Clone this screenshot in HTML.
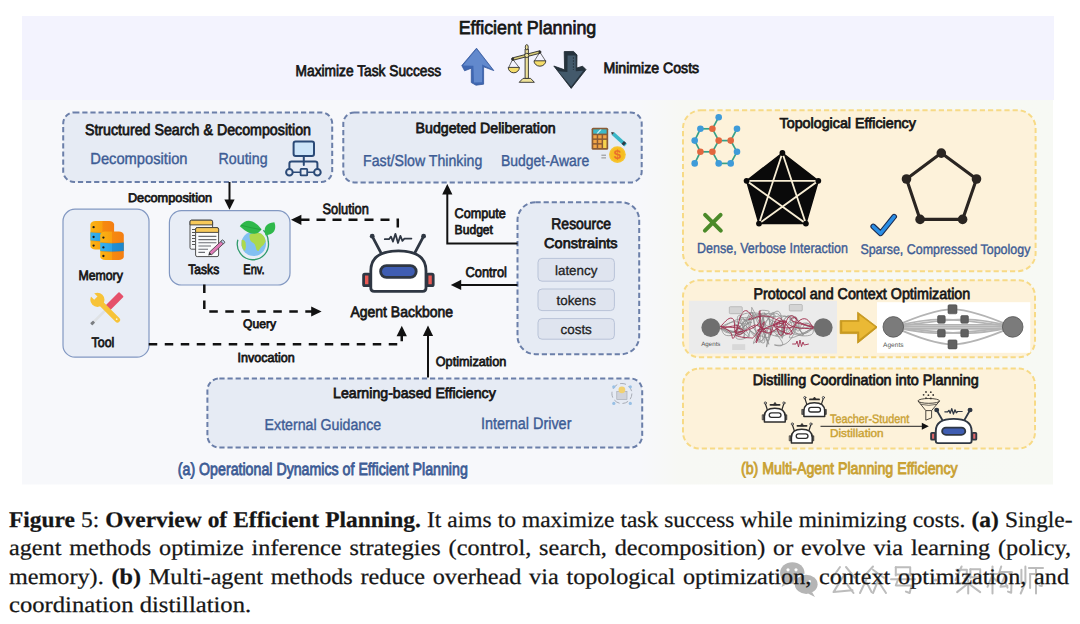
<!DOCTYPE html>
<html><head><meta charset="utf-8"><style>
html,body{margin:0;padding:0;background:#fff;width:1080px;height:624px;overflow:hidden;position:relative;text-rendering:geometricPrecision}
.t{position:absolute;white-space:nowrap;line-height:1;font-family:"Liberation Sans",sans-serif;transform-origin:0 0}
svg{position:absolute;left:0;top:0}
</style></head><body>
<svg width="1080" height="624" viewBox="0 0 1080 624">
<defs><linearGradient id="bgg" x1="0" x2="1" y1="0" y2="0"><stop offset="0" stop-color="#f7f8fb"/><stop offset="0.60" stop-color="#f7f8fb"/><stop offset="0.64" stop-color="#f7f8f4"/><stop offset="1" stop-color="#f7f9f4"/></linearGradient></defs>
<rect x="22" y="16" width="1032" height="84" fill="#f3f3fe"/>
<rect x="22" y="100" width="1031" height="384.5" fill="url(#bgg)"/>
<rect x="63.2" y="112.4" width="269" height="69.6" rx="11" fill="#e6ebf4" stroke="#6b7fa9" stroke-width="2" stroke-dasharray="5.2 2.9"/>
<rect x="343.3" y="112.4" width="298.4" height="70" rx="11" fill="#e6ebf4" stroke="#6b7fa9" stroke-width="2" stroke-dasharray="5.2 2.9"/>
<rect x="517.5" y="202.2" width="121.7" height="152" rx="18" fill="#e6ebf4" stroke="#6b7fa9" stroke-width="2" stroke-dasharray="5.2 2.9"/>
<rect x="207.4" y="378.4" width="434.8" height="69.2" rx="12" fill="#e6ebf4" stroke="#6b7fa9" stroke-width="2" stroke-dasharray="5.2 2.9"/>
<rect x="63" y="209.2" width="86" height="148" rx="12" fill="#e8edf6" stroke="#8298c2" stroke-width="1.2"/>
<rect x="169.4" y="210.6" width="120.6" height="74.4" rx="12" fill="#e8edf6" stroke="#8298c2" stroke-width="1.2"/>
<rect x="538" y="258.4" width="76.4" height="22.8" rx="4" fill="#dfe4ef" stroke="#b9c3d8" stroke-width="1"/>
<rect x="538" y="289" width="76.4" height="21.6" rx="4" fill="#dfe4ef" stroke="#b9c3d8" stroke-width="1"/>
<rect x="538" y="318.6" width="76.4" height="20.6" rx="4" fill="#dfe4ef" stroke="#b9c3d8" stroke-width="1"/>
<rect x="683" y="110.2" width="352.6" height="161" rx="18" fill="#fdf2da" stroke="#f7da86" stroke-width="2" stroke-dasharray="5.2 3"/>
<rect x="683" y="280.2" width="352" height="77" rx="16" fill="#fdf2da" stroke="#f7da86" stroke-width="2" stroke-dasharray="5.2 3"/>
<rect x="683" y="368.6" width="352" height="79.8" rx="16" fill="#fdf2da" stroke="#f7da86" stroke-width="2" stroke-dasharray="5.2 3"/>
<line x1="229.5" y1="182" x2="229.5" y2="201" stroke="#111" stroke-width="2"/>
<polygon points="229.5,209.8 224.4,199.4 234.6,199.4" fill="#111"/>
<polyline points="397.8,227.5 397.8,219.8 301,219.8" fill="none" stroke="#111" stroke-width="2.5" stroke-dasharray="9 7"/>
<polygon points="291.0,219.8 301.4,214.7 301.4,224.9" fill="#111"/>
<polyline points="204.3,284.5 204.3,311.5 312,311.5" fill="none" stroke="#111" stroke-width="2.5" stroke-dasharray="8.5 7.5"/>
<polygon points="321.6,311.5 311.2,306.4 311.2,316.6" fill="#111"/>
<polyline points="148.75,344.3 401.75,344.3 401.75,336" fill="none" stroke="#111" stroke-width="2.5" stroke-dasharray="8.5 7.5"/>
<polygon points="401.8,325.8 396.6,336.2 406.9,336.2" fill="#111"/>
<line x1="428" y1="377.4" x2="428" y2="334" stroke="#111" stroke-width="2"/>
<polygon points="428.0,325.6 422.9,336.0 433.1,336.0" fill="#111"/>
<polyline points="517.5,243.4 447.3,243.4 447.3,192" fill="none" stroke="#111" stroke-width="2"/>
<polygon points="447.3,184.0 442.2,194.4 452.4,194.4" fill="#111"/>
<line x1="517.5" y1="284.9" x2="459" y2="284.9" stroke="#111" stroke-width="2"/>
<polygon points="450.8,284.9 461.2,279.8 461.2,290.0" fill="#111"/>
<text x="576.2" y="274.8" font-family="Liberation Sans" font-size="13.4" fill="#1e1e1e" stroke="#1e1e1e" stroke-width="0.3" text-anchor="middle">latency</text>
<text x="576.2" y="305.0" font-family="Liberation Sans" font-size="13.4" fill="#1e1e1e" stroke="#1e1e1e" stroke-width="0.3" text-anchor="middle">tokens</text>
<text x="576.2" y="333.9" font-family="Liberation Sans" font-size="13.4" fill="#1e1e1e" stroke="#1e1e1e" stroke-width="0.3" text-anchor="middle">costs</text>
<!-- up arrow -->
<polygon points="476.5,48.2 493.8,70.6 483.6,66.8 483.6,84.2 476,85.2 471.3,82.6 471.3,68.2 464.6,70.8 461.8,65.6" fill="#3f67b2" stroke="#35589c" stroke-width="0.8" stroke-linejoin="round"/>
<polygon points="476.5,49.2 492.2,69.2 482.2,64.6 482.0,82.2 474.0,82.4 473.4,65.8 463.0,65.4" fill="#6289cd"/>
<!-- scales -->
<g stroke="#2d2d2d" stroke-width="0.9" stroke-linejoin="round">
<path d="M512.7,59.2 L508.6,67.6 M512.7,59.2 L519.2,67.6 M539.9,52.2 L534.3,61 M539.9,52.2 L545.6,61" fill="none" stroke-width="0.7"/>
<path d="M508.2,67.4 H519.4 A5.6,5.4 0 0 1 508.2,67.4 Z" fill="#f4dc6a"/>
<path d="M534,60.8 H545.8 A5.9,5.4 0 0 1 534,60.8 Z" fill="#f4dc6a"/>
<rect x="525.1" y="49" width="3.3" height="29.5" fill="#efe39a"/>
<path d="M512.5,60.4 L540.2,53.2 L539.7,50.8 L512,58 Z" fill="#d8cc78"/>
<ellipse cx="526.75" cy="47.2" rx="1.5" ry="2.6" fill="#efe39a"/>
<circle cx="526.75" cy="55.4" r="2.1" fill="#efe39a"/>
<circle cx="512.7" cy="59.1" r="1.1" fill="#2d2d2d"/>
<circle cx="539.9" cy="52" r="1.1" fill="#2d2d2d"/>
<path d="M523,78.4 H530.6 L534.4,82.3 H519.2 Z" fill="#efe39a"/>
</g>
<!-- down arrow -->
<polygon points="564.2,51.6 573.6,51.4 577,55 576.8,68 582.6,66.2 586,69.6 571.2,88.4 553.8,66 564.6,69.8" fill="#25323d" stroke="#1b242c" stroke-width="0.8" stroke-linejoin="round"/>
<polygon points="567.6,55.6 575.6,55.6 575.8,71.2 583.2,70.8 571.2,86.6 558.2,71.2 567.4,72" fill="#43596b"/>
<line x1="573.4" y1="57" x2="573.4" y2="70" stroke="#1b242c" stroke-width="0.6" stroke-dasharray="2 1"/>
<!-- network icon -->
<g stroke="#2b4a77" stroke-width="2" fill="none" stroke-linecap="round" stroke-linejoin="round">
<rect x="293.6" y="141.6" width="20.4" height="14.4" rx="2" fill="#cde5f9"/>
<path d="M303.8,156 V165"/>
<path d="M289.4,168.6 V163.6 Q289.4,161.4 291.6,161.4 H315.2 Q317.4,161.4 317.4,163.6 V168.6"/>
<circle cx="289.4" cy="172.2" r="3.3" fill="#e6ebf4"/>
<circle cx="317.4" cy="172.2" r="3.3" fill="#e6ebf4"/>
<path d="M292.7,172.2 H300.6 M307.2,172.2 H314.1" stroke-width="1.6"/>
<rect x="300.6" y="168.8" width="6.6" height="6.6" rx="0.6" fill="#e6ebf4" stroke-width="1.8"/>
</g>
<!-- calculator -->
<rect x="591.6" y="127.8" width="16.6" height="22" rx="1.5" fill="#8a5b35"/>
<rect x="593.2" y="129.4" width="13.4" height="4.2" fill="#3cb9c9"/>
<path d="M596.5,133.4 L600,129.6 L601.6,129.6 L598,133.4 Z" fill="#d8f4f8"/>
<g fill="#f2a547">
<rect x="593.3" y="135.2" width="3.4" height="3.2"/><rect x="598.2" y="135.2" width="3.4" height="3.2"/><rect x="603.1" y="135.2" width="3.4" height="3.2"/>
<rect x="593.3" y="139.9" width="3.4" height="3.2"/><rect x="598.2" y="139.9" width="3.4" height="3.2"/>
<rect x="593.3" y="144.6" width="3.4" height="3.4"/><rect x="598.2" y="144.6" width="3.4" height="3.4"/>
</g>
<rect x="603.1" y="139.9" width="3.4" height="8.1" fill="#f6d24e"/>
<!-- pencil -->
<g transform="translate(611.2,132) rotate(42)">
<rect x="2.5" y="-1.8" width="17" height="3.6" fill="#3ab7c8"/>
<rect x="15.5" y="-1.8" width="3" height="3.6" fill="#2b3c46"/>
<polygon points="0,0 2.6,-1.8 2.6,1.8" fill="#3a3a3a"/>
</g>
<!-- coin -->
<circle cx="617.4" cy="154.6" r="8.4" fill="#f7c531"/>
<circle cx="617.4" cy="154.6" r="7" fill="#f6bd22"/>
<text x="617.4" y="159.3" font-family="Liberation Sans" font-size="13" font-weight="bold" fill="#ea6f2b" text-anchor="middle">$</text>
<path d="M601.4,155.2 H606 M601.4,157.9 H606" stroke="#8c8c8c" stroke-width="1"/>
<defs>
<linearGradient id="og" x1="0" x2="1"><stop offset="0" stop-color="#fbb414"/><stop offset="0.5" stop-color="#f9a00e"/><stop offset="0.52" stop-color="#f68a0f"/><stop offset="1" stop-color="#f47e12"/></linearGradient>
<linearGradient id="bg2" x1="0" x2="1"><stop offset="0" stop-color="#37b3f0"/><stop offset="0.5" stop-color="#2aa2e6"/><stop offset="0.52" stop-color="#1f8fd6"/><stop offset="1" stop-color="#1d87cc"/></linearGradient>
</defs>
<!-- database back -->
<rect x="90.4" y="221.0" width="23.7" height="28.6" rx="5" ry="3.6" fill="url(#og)"/>
<path d="M90.4,232.2 Q102.2,233.6 114.10000000000001,232.2 V240.6 Q102.2,242.0 90.4,240.6 Z" fill="url(#bg2)"/>
<path d="M90.9,232.0 Q102.2,233.4 113.60000000000001,232.0 M90.9,240.8 Q102.2,242.2 113.60000000000001,240.8" stroke="#d07a10" stroke-width="0.5" fill="none" opacity="0.6"/>
<circle cx="93.6" cy="227.2" r="1.15" fill="#1a1a1a"/>
<circle cx="93.6" cy="237.0" r="1.15" fill="#1a1a1a"/>
<circle cx="93.6" cy="245.6" r="1.15" fill="#1a1a1a"/>
<!-- database front -->
<rect x="100.2" y="231.4" width="23.6" height="28.6" rx="5" ry="3.6" fill="url(#og)"/>
<path d="M100.2,242.6 Q112.0,244.0 123.80000000000001,242.6 V251.0 Q112.0,252.4 100.2,251.0 Z" fill="url(#bg2)"/>
<path d="M100.7,242.4 Q112.0,243.8 123.30000000000001,242.4 M100.7,251.2 Q112.0,252.6 123.30000000000001,251.2" stroke="#d07a10" stroke-width="0.5" fill="none" opacity="0.6"/>
<circle cx="103.4" cy="237.6" r="1.15" fill="#1a1a1a"/>
<circle cx="103.4" cy="247.4" r="1.15" fill="#1a1a1a"/>
<circle cx="103.4" cy="256.0" r="1.15" fill="#1a1a1a"/>
<!-- tool: screwdriver -->
<g transform="translate(91.6,324) rotate(-44.9)">
<rect x="0" y="-1.3" width="21" height="2.6" fill="#dfe2e5"/>
<rect x="-0.5" y="-1.5" width="4" height="3" rx="0.6" fill="#7a7d82"/>
<rect x="20" y="-3.3" width="22" height="6.6" rx="0.8" fill="#e5506a"/>
</g>
<!-- tool: wrench -->
<g transform="translate(97.4,299.8) rotate(45)">
<rect x="2" y="-2.7" width="29" height="5.4" rx="2.7" fill="#f7c338"/>
<circle cx="0" cy="0" r="7.1" fill="#f7c338"/>
<path d="M-7.6,-2.3 L-2.2,-2.3 L-2.2,2.3 L-7.6,2.3 Z" fill="#e8edf6"/>
<circle cx="27.3" cy="0" r="0.9" fill="#fff6cc"/>
</g>
<!-- tasks back sheet -->
<g stroke="#3c3c3c" stroke-width="0.9">
<rect x="190" y="220.2" width="22.6" height="29" rx="1.6" fill="#f5f6f8"/>
<path d="M190,224.9 V221.8 Q190,220.2 191.6,220.2 H211 Q212.6,220.2 212.6,221.8 V224.9 Z" fill="#f7c95a"/>
<rect x="195.6" y="227.6" width="23" height="29" rx="1.6" fill="#fafbfc"/>
<path d="M195.6,232.4 V229.2 Q195.6,227.6 197.2,227.6 H217 Q218.6,227.6 218.6,229.2 V232.4 Z" fill="#f7c95a"/>
</g>
<g stroke="#6b6e74" stroke-width="1.1">
<path d="M192,229.5 H195 M192,232.5 H195 M192,235.5 H195 M192,238.5 H195 M192,241.5 H195 M192,244.5 H195" stroke="#555"/>
<path d="M198.4,236.4 H216.4 M198.4,239.6 H216.4 M198.4,242.8 H216.4 M198.4,246 H211 M198.4,249.2 H208 M198.4,252.4 H205"/>
</g>
<!-- pencil pink -->
<g transform="translate(208.2,255.6) rotate(-43)">
<rect x="3" y="-1.7" width="17" height="3.4" fill="#e07ab8" stroke="#333" stroke-width="0.7"/>
<polygon points="0,0 3,-1.7 3,1.7" fill="#333"/>
<rect x="19" y="-1.7" width="2.4" height="3.4" fill="#bcd3ee" stroke="#333" stroke-width="0.7"/>
</g>
<!-- env globe -->
<circle cx="253.7" cy="243.8" r="12.3" fill="#82c0f2"/>
<path d="M249.6,234.5 Q256,231.5 261,233.5 Q265.6,237 265.6,241.5 Q264,245 261.6,246.5 Q259.5,249 258.5,251 Q256.4,251.5 256,248 Q255.4,244 252.5,242.6 Q249,240.5 249.6,234.5 Z" fill="#acd94c"/>
<path d="M241.6,240 Q244.5,239 245.6,242.5 Q246.6,247.5 245,251 Q242.4,249.5 241.6,245.5 Z" fill="#acd94c"/>
<path d="M237.9,239.8 A15.6,15.6 0 1 0 268.2,241.2 Q268,234.5 263.4,230.2" fill="none" stroke="#2f9b6b" stroke-width="1.3"/>
<path d="M239.8,226.2 Q249.5,214.2 261.6,229.2 Q254.5,239.8 239.8,226.2 Z" fill="#2fb84b"/>
<path d="M240.8,225.2 Q251,228 261,229.6" stroke="#1e9a38" stroke-width="0.7" fill="none"/>
<path d="M265.6,235.4 Q261.6,223.6 274.4,222.2 Q278.2,233.6 265.6,235.4 Z" fill="#2fb84b"/>
<!-- robot main -->
<g stroke="#2f3743" stroke-width="2.8" stroke-linecap="round" stroke-linejoin="round">
<line x1="380.6" y1="252.2" x2="372.4" y2="236.6"/>
<line x1="415.2" y1="252.2" x2="423.4" y2="236.6"/>
<rect x="363.6" y="274.2" width="6.2" height="11.4" rx="1.2" fill="#ea5a55"/>
<rect x="427" y="274.2" width="6.2" height="11.4" rx="1.2" fill="#ea5a55"/>
<path d="M370.8,288 V271 C370.8,256 383,250.8 398.4,250.8 C413.8,250.8 426,256 426,271 V288 Q426,291.4 422.6,291.4 H374.2 Q370.8,291.4 370.8,288 Z" fill="#ffffff"/>
<rect x="380.6" y="265.6" width="35.6" height="11.8" rx="5.9" fill="#3f5db2"/>
<path d="M384.8,239.2 H389 L391,236.6 L393,241.6 L395.4,233.8 L398,243 L400.4,235.8 L402.4,240.8 L404.4,238.6 H411.4" fill="none" stroke-width="1.8"/>
</g>
<circle cx="372.2" cy="236.2" r="2.4" fill="#2f3743"/>
<circle cx="423.6" cy="236.2" r="2.4" fill="#2f3743"/>
<g stroke="#36a089" stroke-width="1.7"><line x1="718.7" y1="117.2" x2="712.4" y2="128.8"/><line x1="700.4" y1="128.8" x2="712.4" y2="128.8"/><line x1="700.4" y1="128.8" x2="694.7" y2="140.6"/><line x1="694.7" y1="140.6" x2="700.4" y2="151.8"/><line x1="700.4" y1="151.8" x2="712.4" y2="151.8"/><line x1="712.4" y1="151.8" x2="718.7" y2="140.6"/><line x1="718.7" y1="140.6" x2="712.4" y2="128.8"/><line x1="718.7" y1="140.6" x2="730.7" y2="140.6"/><line x1="730.7" y1="140.6" x2="737" y2="128.8"/><line x1="730.7" y1="140.6" x2="737" y2="151.8"/><line x1="737" y1="151.8" x2="730.7" y2="163.4"/><line x1="730.7" y1="163.4" x2="718.7" y2="163.4"/><line x1="718.7" y1="163.4" x2="712.4" y2="151.8"/><line x1="700.4" y1="151.8" x2="694.7" y2="163.4"/></g>
<g fill="#3e9bd9"><circle cx="718.7" cy="117.2" r="3.3"/><circle cx="700.4" cy="128.8" r="3.3"/><circle cx="737" cy="128.8" r="3.3"/><circle cx="694.7" cy="140.6" r="3.3"/><circle cx="737" cy="151.8" r="3.3"/><circle cx="694.7" cy="163.4" r="3.3"/><circle cx="718.7" cy="163.4" r="3.3"/><circle cx="730.7" cy="163.4" r="3.3"/></g>
<g fill="#e2673f"><circle cx="712.4" cy="128.8" r="3.3"/><circle cx="718.7" cy="140.6" r="3.3"/><circle cx="730.7" cy="140.6" r="3.3"/><circle cx="700.4" cy="151.8" r="3.3"/><circle cx="712.4" cy="151.8" r="3.3"/></g>
<polygon points="782.4,153 818.3,180.8 805.9,223.6 759,223.6 746.6,180.8" fill="#0a0a0a" stroke="#0a0a0a" stroke-width="1.5" stroke-linejoin="round"/>
<polyline points="782.4,153 805.9,223.6 746.6,180.8 818.3,180.8 759,223.6 782.4,153" fill="none" stroke="#f8eed4" stroke-width="1.8"/>
<g fill="#0a0a0a"><circle cx="782.4" cy="153" r="2.9"/><circle cx="818.3" cy="180.8" r="2.9"/><circle cx="805.9" cy="223.6" r="2.9"/><circle cx="759" cy="223.6" r="2.9"/><circle cx="746.6" cy="180.8" r="2.9"/></g>
<polygon points="941.3,153.1 976.5,179 962.6,219.4 920.1,219.4 906.5,179" fill="none" stroke="#2a2521" stroke-width="3.1" stroke-linejoin="round"/>
<g fill="#2a2521"><circle cx="941.3" cy="153.1" r="4.8"/><circle cx="976.5" cy="179" r="4.8"/><circle cx="962.6" cy="219.4" r="4.8"/><circle cx="920.1" cy="219.4" r="4.8"/><circle cx="906.5" cy="179" r="4.8"/></g>
<path d="M705.1,214.8 L720.8,230.6 M720.6,214.8 L704.9,230.6" stroke="#4b8a29" stroke-width="4.0" stroke-linecap="round"/>
<path d="M873.2,226.4 L880.6,233.4 L894.2,216.6" fill="none" stroke="#1c2b4d" stroke-width="5.6" stroke-linecap="round" stroke-linejoin="round"/>
<path d="M873.2,226.4 L880.6,233.4 L894.2,216.6" fill="none" stroke="#2b8fe6" stroke-width="3.4" stroke-linecap="round" stroke-linejoin="round"/>
<rect x="689" y="300.8" width="148" height="52.8" fill="#ebebeb"/>
<path d="M720.5,326.5 C723.9,328.0 728.2,330.6 734.1,332.3 C740.0,334.0 741.7,332.2 744.1,333.2 C746.5,334.2 742.0,341.2 743.7,336.3 C745.3,331.5 748.0,320.0 750.7,313.8 C753.3,307.7 749.6,304.0 754.1,311.6 C758.6,319.2 766.8,342.0 768.7,344.2 C770.6,346.4 760.0,327.3 761.7,320.4 C763.4,313.4 773.6,317.5 775.4,316.4 C777.1,315.3 768.2,312.1 768.6,316.1 C769.0,320.0 770.5,331.6 776.9,332.1 C783.4,332.6 788.7,318.8 794.3,318.1 C799.8,317.4 796.9,324.9 799.1,329.2 C801.3,333.5 804.5,335.1 803.0,335.3 C801.5,335.5 790.6,332.4 793.2,330.2 C795.8,328.0 808.4,327.4 813.5,326.5 " fill="none" stroke="#8c8c8c" stroke-width="0.85" opacity="0.9"/>
<path d="M720.5,327.8 C722.6,329.8 721.9,335.9 728.9,335.7 C735.9,335.4 743.6,330.9 748.5,326.8 C753.3,322.7 749.3,320.8 748.3,319.3 C747.3,317.8 741.8,321.1 744.4,320.7 C747.1,320.2 752.6,319.7 758.8,317.4 C765.1,315.2 769.4,313.0 769.4,311.7 C769.4,310.3 757.4,309.3 758.9,312.0 C760.4,314.7 771.5,320.3 775.4,322.5 C779.3,324.8 772.6,320.7 774.4,321.2 C776.3,321.6 781.6,323.2 782.7,324.2 C783.9,325.2 778.3,327.3 779.2,325.3 C780.0,323.3 780.5,314.6 786.1,316.3 C791.7,317.9 797.2,327.5 801.5,332.0 C805.8,336.5 800.3,335.4 803.3,334.2 C806.3,333.1 810.9,329.0 813.5,327.3 " fill="none" stroke="#8c8c8c" stroke-width="0.85" opacity="0.9"/>
<path d="M720.5,326.5 C724.7,325.4 731.4,321.0 737.3,321.9 C743.3,322.8 742.9,327.9 744.3,330.2 C745.6,332.5 740.9,335.4 742.7,331.0 C744.5,326.6 748.1,312.4 751.3,312.6 C754.6,312.8 753.3,324.6 755.6,331.8 C757.9,339.1 756.9,343.9 760.4,341.7 C763.9,339.4 768.7,330.0 769.7,322.9 C770.7,315.9 761.7,310.6 764.5,313.5 C767.4,316.4 776.8,331.6 781.2,334.6 C785.6,337.6 781.2,329.6 782.2,325.5 C783.1,321.5 782.9,320.6 785.0,318.5 C787.1,316.4 787.5,314.2 790.6,317.3 C793.7,320.3 794.2,329.3 797.4,330.8 C800.6,332.2 799.4,324.3 803.4,323.2 C807.4,322.1 811.0,325.6 813.5,326.4 " fill="none" stroke="#8c8c8c" stroke-width="0.85" opacity="0.9"/>
<path d="M720.5,329.0 C723.9,329.6 728.1,333.5 734.1,331.4 C740.2,329.3 744.1,320.9 744.7,320.7 C745.3,320.5 737.1,329.8 736.6,330.6 C736.0,331.4 735.9,321.2 742.4,323.7 C749.0,326.3 760.3,343.7 762.8,340.8 C765.3,337.9 753.2,312.3 752.4,312.1 C751.5,311.9 757.4,338.8 759.4,340.0 C761.5,341.3 758.6,323.7 760.5,317.2 C762.4,310.6 762.2,314.0 767.1,313.8 C772.1,313.6 776.5,311.0 780.5,316.4 C784.5,321.8 779.7,333.1 783.2,335.2 C786.7,337.4 790.1,326.6 794.5,325.1 C798.8,323.7 797.7,329.8 800.7,329.4 C803.7,328.9 803.3,323.8 806.5,323.2 C809.7,322.7 811.8,326.2 813.5,327.2 " fill="none" stroke="#8c8c8c" stroke-width="0.85" opacity="0.9"/>
<path d="M720.5,329.0 C726.0,329.6 738.9,333.0 742.4,331.6 C746.0,330.2 732.8,322.3 734.6,323.5 C736.3,324.7 747.8,338.2 749.3,336.5 C750.7,334.8 736.9,322.3 740.3,316.7 C743.7,311.1 757.2,312.9 762.9,314.1 C768.6,315.2 761.9,314.5 763.1,321.3 C764.4,328.1 765.8,340.8 767.9,341.3 C770.0,341.9 770.7,325.8 771.6,323.5 C772.5,321.2 768.7,331.9 771.4,332.1 C774.2,332.3 779.3,325.2 782.6,324.4 C785.8,323.6 783.7,330.3 784.3,328.8 C785.0,327.3 782.2,321.0 785.2,318.3 C788.2,315.5 792.2,314.3 796.4,317.9 C800.6,321.6 797.7,330.2 802.0,332.8 C806.2,335.5 810.6,329.6 813.5,328.6 " fill="none" stroke="#8c8c8c" stroke-width="0.85" opacity="0.9"/>
<path d="M720.5,328.7 C723.4,329.7 724.8,334.1 732.0,332.6 C739.1,331.2 744.4,325.5 749.0,323.0 C753.6,320.6 751.8,322.9 750.4,322.8 C748.9,322.7 740.9,324.5 743.3,322.6 C745.7,320.7 755.0,315.3 760.0,315.1 C765.0,315.0 763.6,319.6 763.2,322.1 C762.8,324.5 757.2,323.9 758.4,325.0 C759.5,326.0 761.7,321.5 767.7,326.1 C773.8,330.7 780.9,338.5 782.6,343.2 C784.3,347.9 773.4,345.0 774.5,344.9 C775.7,344.7 781.8,346.8 787.2,342.7 C792.7,338.5 795.6,329.5 796.3,328.4 C797.0,327.2 786.6,337.7 790.0,338.0 C793.4,338.4 804.1,332.7 810.0,329.8 C815.9,326.9 812.6,327.3 813.5,326.4 " fill="none" stroke="#8c8c8c" stroke-width="0.85" opacity="0.9"/>
<path d="M720.5,328.2 C726.1,326.0 735.9,317.4 743.0,319.2 C750.1,321.0 750.6,331.1 748.8,335.4 C747.1,339.7 734.3,341.0 736.1,336.5 C737.9,332.0 749.0,320.8 756.1,317.4 C763.2,313.9 763.7,318.8 764.4,322.8 C765.2,326.8 757.9,329.8 759.0,333.3 C760.1,336.8 767.2,338.5 768.8,336.9 C770.4,335.4 765.8,331.4 765.6,327.0 C765.3,322.6 764.2,322.9 767.7,319.3 C771.3,315.6 776.3,307.9 779.8,312.6 C783.4,317.2 781.0,334.6 782.0,337.9 C782.9,341.2 782.6,326.8 783.6,325.7 C784.5,324.5 783.6,334.2 785.7,333.4 C787.9,332.5 785.1,323.3 792.0,322.1 C798.9,320.8 808.1,326.8 813.5,328.3 " fill="none" stroke="#8c8c8c" stroke-width="0.85" opacity="0.9"/>
<path d="M720.5,326.8 C724.5,329.1 731.0,335.7 736.6,335.8 C742.3,335.9 742.0,331.9 743.2,327.2 C744.3,322.5 737.0,314.9 741.2,317.0 C745.4,319.2 757.8,332.5 760.0,335.9 C762.2,339.4 749.0,329.3 750.0,330.9 C751.1,332.6 761.5,345.3 764.2,342.7 C766.8,340.1 760.7,323.4 760.6,320.5 C760.5,317.6 758.0,327.1 763.7,331.0 C769.5,334.9 781.2,338.3 783.4,336.3 C785.7,334.3 774.5,328.0 772.8,323.1 C771.1,318.1 772.3,317.9 776.5,316.5 C780.8,315.1 786.4,316.3 789.9,317.5 C793.3,318.7 788.3,317.3 790.4,321.4 C792.6,325.4 792.7,332.4 798.4,333.8 C804.2,335.1 809.7,328.5 813.5,326.8 " fill="none" stroke="#8c8c8c" stroke-width="0.85" opacity="0.9"/>
<path d="M720.5,326.5 C725.7,328.4 737.0,335.3 741.3,334.2 C745.6,333.1 738.3,326.9 737.7,322.2 C737.1,317.5 737.3,316.5 738.9,315.4 C740.6,314.3 738.5,317.5 744.3,317.8 C750.1,318.2 759.7,310.3 762.1,316.7 C764.5,323.1 751.0,344.5 753.8,343.5 C756.6,342.4 770.2,311.9 773.3,312.5 C776.5,313.2 766.6,341.2 766.5,346.1 C766.3,351.1 768.5,335.7 772.8,332.3 C777.2,329.0 783.0,332.2 783.8,332.8 C784.7,333.4 773.0,336.6 776.1,334.9 C779.2,333.2 792.3,326.6 796.3,326.1 C800.2,325.6 788.5,330.7 791.9,333.0 C795.3,335.3 804.4,336.8 809.8,335.3 C815.2,333.7 812.6,328.8 813.5,326.7 " fill="none" stroke="#8c8c8c" stroke-width="0.85" opacity="0.9"/>
<path d="M720.5,326.2 C722.8,327.5 726.4,328.8 729.8,331.5 C733.3,334.2 731.2,341.7 734.4,336.9 C737.6,332.2 738.3,317.7 742.6,312.5 C747.0,307.3 750.2,314.4 751.9,316.1 C753.5,317.9 746.2,319.5 749.2,319.4 C752.2,319.4 756.7,315.8 763.8,316.0 C770.9,316.1 773.4,318.5 777.4,320.0 C781.5,321.6 781.0,320.8 780.2,322.1 C779.3,323.5 771.1,324.1 773.9,325.3 C776.8,326.6 785.8,329.1 791.4,327.2 C797.0,325.3 796.1,319.4 796.3,317.8 C796.5,316.2 787.7,318.3 792.0,320.7 C796.3,323.2 808.1,325.9 813.5,327.6 " fill="none" stroke="#a0304f" stroke-width="1.0" opacity="0.95"/>
<path d="M720.5,326.3 C723.4,324.3 728.1,316.4 732.3,318.4 C736.5,320.3 732.5,332.1 737.2,334.1 C741.9,336.2 745.9,328.7 751.2,326.7 C756.4,324.6 754.4,324.7 758.2,325.9 C761.9,327.2 766.3,330.6 766.1,331.6 C766.0,332.7 756.5,330.8 757.4,330.1 C758.4,329.5 766.7,327.8 769.9,329.0 C773.2,330.1 769.0,336.8 770.5,334.8 C771.9,332.7 772.7,324.3 775.7,320.7 C778.7,317.1 779.6,317.0 782.5,320.4 C785.3,323.8 782.1,334.5 787.1,334.2 C792.1,333.8 795.9,320.5 802.5,318.9 C809.1,317.3 810.8,325.6 813.5,327.8 " fill="none" stroke="#a0304f" stroke-width="1.0" opacity="0.95"/>
<path d="M720.5,328.4 C725.0,327.8 734.9,325.0 738.7,325.9 C742.4,326.9 731.0,332.3 735.5,332.2 C740.0,332.0 750.5,330.5 756.7,325.4 C762.8,320.2 759.4,313.8 760.1,311.6 C760.8,309.4 758.3,311.6 759.4,316.6 C760.5,321.7 760.0,328.9 764.5,331.8 C769.0,334.8 772.7,331.1 777.5,328.5 C782.3,325.8 784.3,321.8 783.5,321.2 C782.8,320.7 772.4,323.2 774.5,326.4 C776.6,329.6 789.6,335.4 792.0,334.0 C794.4,332.7 783.6,322.8 784.2,321.1 C784.8,319.3 787.0,325.2 794.3,327.1 C801.6,329.0 808.7,328.3 813.5,328.7 " fill="none" stroke="#a0304f" stroke-width="1.0" opacity="0.95"/>
<path d="M720.5,326.4 C726.0,327.1 738.8,327.3 742.6,329.5 C746.4,331.6 734.1,332.8 735.8,334.8 C737.4,336.9 744.3,337.6 749.2,337.8 C754.1,337.9 751.5,339.3 755.3,335.3 C759.1,331.3 764.0,320.0 764.3,321.9 C764.7,323.7 756.9,340.7 756.5,342.7 C756.1,344.6 755.4,334.9 762.7,329.8 C770.1,324.6 782.4,323.7 786.0,322.1 C789.6,320.6 778.2,320.2 777.2,323.5 C776.1,326.9 778.7,337.1 781.7,335.3 C784.8,333.6 784.6,319.6 789.4,316.5 C794.3,313.5 795.1,320.6 801.1,323.1 C807.2,325.6 810.4,325.8 813.5,326.6 " fill="none" stroke="#a0304f" stroke-width="1.0" opacity="0.95"/>
<circle cx="710.8" cy="327.6" r="9.4" fill="#6f6f6f"/><circle cx="823.2" cy="327.6" r="9.4" fill="#6f6f6f"/>
<rect x="729.3" y="306.7" width="13" height="7" rx="1" fill="#d4d4d4" stroke="#999" stroke-width="0.5"/><rect x="789.3" y="304.5" width="13" height="6.5" rx="1" fill="#d4d4d4" stroke="#999" stroke-width="0.5"/><rect x="732.2" y="344.2" width="13" height="5.8" fill="#d8d8d8"/>
<path d="M792.2,344 L796,344 L797,341 L798.5,347 L800,340 L801.5,346.5 L803,342 L804.2,345 L808.8,344" fill="none" stroke="#a2304f" stroke-width="0.9"/>
<text x="701.2" y="346.2" font-family="Liberation Sans" font-size="6.2" fill="#555">Agents</text>
<path d="M840.2,320.6 H857.6 V312.2 L877.4,327.2 L857.6,343.2 V333.6 H840.2 Z" fill="#c99a1f" stroke="#c39418" stroke-width="0.8" stroke-linejoin="round"/>
<path d="M842.2,321.8 H859.4 V315.2 L875.2,327.0 L859.2,339.4 V331.6 H842.2 Z" fill="#eab935"/>
<rect x="877" y="302.2" width="153.3" height="50.6" fill="#ffffff"/>
<g stroke="#b4b4b4" stroke-width="1.8"><path d="M893.3,326.9 Q932.5,309.3 952.5,309.3 Q972.5,309.3 1012.7,326.9" fill="none"/><path d="M893.3,326.9 Q921.4,319.4 941.4,319.4 Q961.4,319.4 1012.7,326.9" fill="none"/><path d="M893.3,326.9 Q944.6,319.4 964.6,319.4 Q984.6,319.4 1012.7,326.9" fill="none"/><path d="M893.3,326.9 Q921.4,333.3 941.4,333.3 Q961.4,333.3 1012.7,326.9" fill="none"/><path d="M893.3,326.9 Q944.6,333.3 964.6,333.3 Q984.6,333.3 1012.7,326.9" fill="none"/><path d="M893.3,326.9 Q932.5,344.4 952.5,344.4 Q972.5,344.4 1012.7,326.9" fill="none"/><line x1="893.3" y1="324.9" x2="1012.7" y2="324.9"/><line x1="893.3" y1="326.9" x2="1012.7" y2="326.9"/><line x1="893.3" y1="328.9" x2="1012.7" y2="328.9"/></g>
<g fill="#616161" stroke="#4a4a4a" stroke-width="0.6"><rect x="948.0" y="304.8" width="9" height="9" rx="1.2"/><rect x="937.6" y="315.59999999999997" width="7.6" height="7.6" rx="1.2"/><rect x="960.8000000000001" y="315.59999999999997" width="7.6" height="7.6" rx="1.2"/><rect x="937.6" y="329.5" width="7.6" height="7.6" rx="1.2"/><rect x="960.8000000000001" y="329.5" width="7.6" height="7.6" rx="1.2"/><rect x="948.0" y="339.9" width="9" height="9" rx="1.2"/></g>
<circle cx="893.3" cy="326.9" r="10.3" fill="#7b7b7b" stroke="#555" stroke-width="0.8"/><circle cx="1012.7" cy="326.9" r="10.3" fill="#7b7b7b" stroke="#555" stroke-width="0.8"/>
<text x="883" y="346.6" font-family="Liberation Sans" font-size="6.6" fill="#555">Agents</text>
<g transform="translate(0,0)" stroke="#2d2d2d" stroke-linecap="round" stroke-linejoin="round">
<path d="M767.4,410 L765.3,403.5 M781.8,410 L783.9,403.5" stroke-width="1.2"/>
<circle cx="765.3" cy="403" r="1.1" fill="#fff" stroke-width="0.8"/><circle cx="783.9" cy="403" r="1.1" fill="#fff" stroke-width="0.8"/>
<path d="M770.4,404.8 H779.6" stroke-width="1.7"/><path d="M773.4,404.6 L775,402.4 L776.6,404.6 Z" fill="#2d2d2d" stroke-width="0.8"/>
<rect x="762.6" y="414.8" width="2.2" height="5" fill="#555" stroke-width="0.7"/><rect x="784.6" y="414.8" width="2.2" height="5" fill="#555" stroke-width="0.7"/>
<path d="M764.4,422 V416.4 C764.4,410.8 768.8,408.2 774.8,408.2 C780.8,408.2 785.2,410.8 785.2,416.4 V422 Z" fill="#ffffff" stroke-width="1.5"/>
<rect x="769.2" y="412.8" width="11.8" height="4.6" rx="2.3" fill="#ffffff" stroke-width="1.3"/>
</g>
<g transform="translate(39.5,-5.4)" stroke="#2d2d2d" stroke-linecap="round" stroke-linejoin="round">
<path d="M767.4,410 L765.3,403.5 M781.8,410 L783.9,403.5" stroke-width="1.2"/>
<circle cx="765.3" cy="403" r="1.1" fill="#fff" stroke-width="0.8"/><circle cx="783.9" cy="403" r="1.1" fill="#fff" stroke-width="0.8"/>
<path d="M770.4,404.8 H779.6" stroke-width="1.7"/><path d="M773.4,404.6 L775,402.4 L776.6,404.6 Z" fill="#2d2d2d" stroke-width="0.8"/>
<rect x="762.6" y="414.8" width="2.2" height="5" fill="#555" stroke-width="0.7"/><rect x="784.6" y="414.8" width="2.2" height="5" fill="#555" stroke-width="0.7"/>
<path d="M764.4,422 V416.4 C764.4,410.8 768.8,408.2 774.8,408.2 C780.8,408.2 785.2,410.8 785.2,416.4 V422 Z" fill="#ffffff" stroke-width="1.5"/>
<rect x="769.2" y="412.8" width="11.8" height="4.6" rx="2.3" fill="#ffffff" stroke-width="1.3"/>
</g>
<g transform="translate(27,21)" stroke="#2d2d2d" stroke-linecap="round" stroke-linejoin="round">
<path d="M767.4,410 L765.3,403.5 M781.8,410 L783.9,403.5" stroke-width="1.2"/>
<circle cx="765.3" cy="403" r="1.1" fill="#fff" stroke-width="0.8"/><circle cx="783.9" cy="403" r="1.1" fill="#fff" stroke-width="0.8"/>
<path d="M770.4,404.8 H779.6" stroke-width="1.7"/><path d="M773.4,404.6 L775,402.4 L776.6,404.6 Z" fill="#2d2d2d" stroke-width="0.8"/>
<rect x="762.6" y="414.8" width="2.2" height="5" fill="#555" stroke-width="0.7"/><rect x="784.6" y="414.8" width="2.2" height="5" fill="#555" stroke-width="0.7"/>
<path d="M764.4,422 V416.4 C764.4,410.8 768.8,408.2 774.8,408.2 C780.8,408.2 785.2,410.8 785.2,416.4 V422 Z" fill="#ffffff" stroke-width="1.5"/>
<rect x="769.2" y="412.8" width="11.8" height="4.6" rx="2.3" fill="#ffffff" stroke-width="1.3"/>
</g>
<line x1="820.5" y1="426.3" x2="922" y2="426.3" stroke="#222" stroke-width="1"/>
<polygon points="928.8,426.3 921.8,422.8 921.8,429.8" fill="#111"/>
<g stroke="#3a3530" stroke-width="0.9" fill="none" stroke-linejoin="round">
<ellipse cx="928.8" cy="400.9" rx="10.8" ry="2.4"/>
<path d="M918,401 L925.8,410.6 H931.6 L939.6,401"/>
<path d="M920.6,404.3 Q928.8,406.4 937,404.3" stroke-width="0.7"/>
<path d="M925.8,410.6 V420.2 L931.6,417.8 V410.6"/>
</g>
<g fill="#3a3530"><circle cx="926" cy="392" r="0.9"/><circle cx="930.8" cy="392.2" r="0.9"/><circle cx="923.6" cy="394.8" r="0.9"/><circle cx="928.4" cy="395.2" r="0.9"/><circle cx="933.2" cy="395" r="0.9"/><circle cx="926" cy="398.2" r="0.9"/><circle cx="930.8" cy="398.4" r="0.9"/></g>
<g transform="translate(953.7,418.8) scale(0.649,0.6) translate(-398.4,-250.8)" stroke="#2f3743" stroke-width="2.9" stroke-linecap="round" stroke-linejoin="round">
<line x1="380.6" y1="252.2" x2="372.4" y2="236.6"/>
<line x1="415.2" y1="252.2" x2="423.4" y2="236.6"/>
<rect x="363.6" y="274.2" width="6.2" height="11.4" rx="1.2" fill="#e0676a"/>
<rect x="427" y="274.2" width="6.2" height="11.4" rx="1.2" fill="#e0676a"/>
<path d="M370.8,288 V271 C370.8,256 383,250.8 398.4,250.8 C413.8,250.8 426,256 426,271 V288 Q426,291.4 422.6,291.4 H374.2 Q370.8,291.4 370.8,288 Z" fill="#ffffff"/>
<rect x="380.6" y="265.6" width="35.6" height="11.8" rx="5.9" fill="#3f5db2"/>
<path d="M384.8,239.2 H389 L391,236.6 L393,241.6 L395.4,233.8 L398,243 L400.4,235.8 L402.4,240.8 L404.4,238.6 H411.4" fill="none" stroke-width="2"/>
<circle cx="372.2" cy="236.2" r="2.4" fill="#2f3743"/><circle cx="423.6" cy="236.2" r="2.4" fill="#2f3743"/>
</g>
<g opacity="0.75">
<circle cx="621.9" cy="393.5" r="10" fill="none" stroke="#8a8f99" stroke-width="0.9" stroke-dasharray="6 3"/>
<rect x="616.8" y="391.5" width="10.2" height="8" fill="#c9ccd4" stroke="#8a8f99" stroke-width="0.6"/>
<circle cx="621.9" cy="389.8" r="3.4" fill="#f6c945"/>
<g fill="#7fb2e0"><circle cx="613.8" cy="386.8" r="1.6"/><circle cx="630.3" cy="386.8" r="1.6"/><circle cx="613.8" cy="403.4" r="1.6"/><circle cx="630.3" cy="403.4" r="1.6"/></g>
</g>
<g stroke="#b9b9b9" stroke-width="2" fill="none" stroke-linecap="round" stroke-linejoin="round" opacity="0.95">
<polyline points="840.0,567.0 831.8,578.6"/>
<polyline points="846.0,567.0 855.0,577.8"/>
<polyline points="843.5,576.0 833.5,592.1 852.5,590.3"/>
<polyline points="847.5,584.9 853.5,593.0"/>
<polyline points="873.0,566.5 862.7,577.8"/>
<polyline points="873.0,569.7 883.8,577.8"/>
<polyline points="866.8,578.6 860.0,593.0"/>
<polyline points="866.8,582.7 871.6,592.1"/>
<polyline points="878.9,578.6 873.0,593.0"/>
<polyline points="878.9,582.2 886.0,593.0"/>
<polyline points="895.8,567.3 895.8,575.4"/>
<polyline points="895.8,567.3 910.2,567.3 910.2,575.4"/>
<polyline points="895.8,574.6 910.2,574.6"/>
<polyline points="891.0,579.2 915.0,579.2"/>
<polyline points="898.2,579.2 895.8,585.4 911.4,585.4 909.7,593.0 905.9,591.6"/>
<polyline points="956.3,569.7 966.9,569.7 966.4,579.5 964.5,578.6"/>
<polyline points="961.6,566.5 955.5,580.0"/>
<polyline points="970.4,569.2 970.4,577.8"/>
<polyline points="970.4,569.2 980.2,569.2 980.2,577.8"/>
<polyline points="970.4,577.3 980.2,577.3"/>
<polyline points="955.5,583.2 981.0,583.2"/>
<polyline points="968.2,580.0 968.2,593.5"/>
<polyline points="967.7,583.8 957.1,592.1"/>
<polyline points="968.8,583.8 980.2,592.1"/>
<polyline points="987.5,574.1 997.5,574.1"/>
<polyline points="992.5,566.5 992.5,593.5"/>
<polyline points="992.5,574.6 987.5,586.8"/>
<polyline points="993.0,577.3 997.0,581.4"/>
<polyline points="1001.2,566.5 998.0,576.8"/>
<polyline points="1000.0,571.9 1011.8,571.9 1011.2,592.7 1008.0,591.6"/>
<polyline points="1004.5,576.8 1000.5,586.8 1007.5,585.9"/>
<polyline points="1005.5,582.7 1007.5,587.6"/>
<polyline points="1021.4,569.7 1021.4,583.2"/>
<polyline points="1025.4,566.5 1025.4,582.7 1020.7,593.5"/>
<polyline points="1028.9,567.9 1043.0,567.9"/>
<polyline points="1030.1,574.1 1030.1,588.1"/>
<polyline points="1030.1,574.1 1041.8,574.1 1041.8,585.9 1039.5,585.4"/>
<polyline points="1036.0,567.9 1036.0,593.5"/>
</g>
<circle cx="935.6" cy="580" r="1.6" fill="#b9b9b9"/>
<g fill="#b5b5b5"><ellipse cx="792.3" cy="573" rx="12.2" ry="10.8"/><path d="M784,581 L781.5,587 L789,583 Z"/></g>
<ellipse cx="806.2" cy="584.3" rx="12.6" ry="10.6" fill="#ffffff"/>
<g fill="#b5b5b5"><ellipse cx="806.2" cy="584.3" rx="11.4" ry="9.6"/><path d="M812,592 L815,597 L808,593.5 Z"/></g>
<g fill="#fff"><circle cx="788" cy="569.8" r="1.6"/><circle cx="796" cy="569.8" r="1.6"/><circle cx="802.4" cy="581.4" r="1.3"/><circle cx="809.6" cy="581.4" r="1.3"/></g>
<g font-family="Liberation Sans"><text x="458.70" y="33.90" font-size="18.90" fill="#161616" stroke="#161616" stroke-width="0.75" textLength="137.60" lengthAdjust="spacingAndGlyphs">Efficient Planning</text>
<text x="295.60" y="75.80" font-size="15.55" fill="#161616" stroke="#161616" stroke-width="0.75" textLength="145.60" lengthAdjust="spacingAndGlyphs">Maximize Task Success</text>
<text x="603.40" y="72.90" font-size="14.97" fill="#161616" stroke="#161616" stroke-width="0.75" textLength="95.78" lengthAdjust="spacingAndGlyphs">Minimize Costs</text>
<text x="84.90" y="134.90" font-size="15.55" fill="#161616" stroke="#161616" stroke-width="0.75" textLength="226.09" lengthAdjust="spacingAndGlyphs">Structured Search &amp; Decomposition</text>
<text x="90.30" y="164.10" font-size="15.99" fill="#3d5c95" stroke="#3d5c95" stroke-width="0.4" textLength="97.23" lengthAdjust="spacingAndGlyphs">Decomposition</text>
<text x="218.60" y="164.10" font-size="15.99" fill="#3d5c95" stroke="#3d5c95" stroke-width="0.4" textLength="48.94" lengthAdjust="spacingAndGlyphs">Routing</text>
<text x="415.60" y="133.00" font-size="14.83" fill="#161616" stroke="#161616" stroke-width="0.75" textLength="140.06" lengthAdjust="spacingAndGlyphs">Budgeted Deliberation</text>
<text x="363.10" y="165.90" font-size="15.84" fill="#3d5c95" stroke="#3d5c95" stroke-width="0.4" textLength="119.19" lengthAdjust="spacingAndGlyphs">Fast/Slow Thinking</text>
<text x="500.90" y="165.90" font-size="15.84" fill="#3d5c95" stroke="#3d5c95" stroke-width="0.4" textLength="88.33" lengthAdjust="spacingAndGlyphs">Budget-Aware</text>
<text x="127.90" y="201.70" font-size="12.65" fill="#161616" stroke="#161616" stroke-width="0.75" textLength="84.24" lengthAdjust="spacingAndGlyphs">Decomposition</text>
<text x="322.60" y="214.30" font-size="14.97" fill="#161616" stroke="#161616" stroke-width="0.75" textLength="46.21" lengthAdjust="spacingAndGlyphs">Solution</text>
<text x="454.60" y="217.80" font-size="13.95" fill="#161616" stroke="#161616" stroke-width="0.75" textLength="51.31" lengthAdjust="spacingAndGlyphs">Compute</text>
<text x="454.60" y="233.80" font-size="12.94" fill="#161616" stroke="#161616" stroke-width="0.75" textLength="38.39" lengthAdjust="spacingAndGlyphs">Budget</text>
<text x="551.30" y="228.90" font-size="15.41" fill="#161616" stroke="#161616" stroke-width="0.75" textLength="59.71" lengthAdjust="spacingAndGlyphs">Resource</text>
<text x="544.10" y="247.80" font-size="14.24" fill="#161616" stroke="#161616" stroke-width="0.75" textLength="73.52" lengthAdjust="spacingAndGlyphs">Constraints</text>
<text x="78.40" y="279.80" font-size="13.66" fill="#161616" stroke="#161616" stroke-width="0.75" textLength="44.48" lengthAdjust="spacingAndGlyphs">Memory</text>
<text x="188.30" y="273.70" font-size="13.66" fill="#161616" stroke="#161616" stroke-width="0.75" textLength="30.92" lengthAdjust="spacingAndGlyphs">Tasks</text>
<text x="243.30" y="273.70" font-size="13.66" fill="#161616" stroke="#161616" stroke-width="0.75" textLength="21.30" lengthAdjust="spacingAndGlyphs">Env.</text>
<text x="465.50" y="277.40" font-size="14.24" fill="#161616" stroke="#161616" stroke-width="0.75" textLength="41.38" lengthAdjust="spacingAndGlyphs">Control</text>
<text x="350.50" y="317.10" font-size="15.26" fill="#161616" stroke="#161616" stroke-width="0.75" textLength="102.49" lengthAdjust="spacingAndGlyphs">Agent Backbone</text>
<text x="243.00" y="328.00" font-size="12.50" fill="#161616" stroke="#161616" stroke-width="0.75" textLength="33.04" lengthAdjust="spacingAndGlyphs">Query</text>
<text x="91.50" y="346.50" font-size="13.81" fill="#161616" stroke="#161616" stroke-width="0.75" textLength="22.81" lengthAdjust="spacingAndGlyphs">Tool</text>
<text x="237.60" y="361.50" font-size="13.23" fill="#161616" stroke="#161616" stroke-width="0.75" textLength="57.07" lengthAdjust="spacingAndGlyphs">Invocation</text>
<text x="435.70" y="365.60" font-size="13.37" fill="#161616" stroke="#161616" stroke-width="0.75" textLength="70.58" lengthAdjust="spacingAndGlyphs">Optimization</text>
<text x="333.00" y="397.60" font-size="14.68" fill="#161616" stroke="#161616" stroke-width="0.75" textLength="162.78" lengthAdjust="spacingAndGlyphs">Learning-based Efficiency</text>
<text x="264.60" y="430.30" font-size="15.70" fill="#3d5c95" stroke="#3d5c95" stroke-width="0.4" textLength="116.57" lengthAdjust="spacingAndGlyphs">External Guidance</text>
<text x="480.90" y="428.80" font-size="16.57" fill="#3d5c95" stroke="#3d5c95" stroke-width="0.4" textLength="90.54" lengthAdjust="spacingAndGlyphs">Internal Driver</text>
<text x="177.80" y="475.20" font-size="17.44" fill="#3d5c95" stroke="#3d5c95" stroke-width="0.85" textLength="289.98" lengthAdjust="spacingAndGlyphs">(a) Operational Dynamics of Efficient Planning</text>
<text x="779.60" y="127.60" font-size="14.53" fill="#161616" stroke="#161616" stroke-width="0.75" textLength="136.27" lengthAdjust="spacingAndGlyphs">Topological Efficiency</text>
<text x="697.10" y="252.60" font-size="14.53" fill="#3d5c95" stroke="#3d5c95" stroke-width="0.4" textLength="150.81" lengthAdjust="spacingAndGlyphs">Dense, Verbose Interaction</text>
<text x="860.40" y="254.00" font-size="13.95" fill="#3d5c95" stroke="#3d5c95" stroke-width="0.4" textLength="169.98" lengthAdjust="spacingAndGlyphs">Sparse, Compressed Topology</text>
<text x="753.40" y="298.50" font-size="15.55" fill="#161616" stroke="#161616" stroke-width="0.75" textLength="216.83" lengthAdjust="spacingAndGlyphs">Protocol and Context Optimization</text>
<text x="752.70" y="384.80" font-size="14.97" fill="#161616" stroke="#161616" stroke-width="0.75" textLength="225.97" lengthAdjust="spacingAndGlyphs">Distilling Coordination into Planning</text>
<text x="830.00" y="423.40" font-size="12.35" fill="#c9a132" stroke="#c9a132" stroke-width="0.4" textLength="79.20" lengthAdjust="spacingAndGlyphs">Teacher-Student</text>
<text x="830.00" y="437.40" font-size="11.34" fill="#c9a132" stroke="#c9a132" stroke-width="0.4" textLength="53.60" lengthAdjust="spacingAndGlyphs">Distillation</text>
<text x="741.00" y="474.30" font-size="16.72" fill="#c9a132" stroke="#c9a132" stroke-width="0.85" textLength="216.66" lengthAdjust="spacingAndGlyphs">(b) Multi-Agent Planning Efficiency</text></g>
</svg>

<style>.cap{position:absolute;left:8.6px;font-family:"Liberation Serif",serif;font-size:22.4px;line-height:1;white-space:nowrap;color:#161616;-webkit-text-stroke:0.25px #161616;transform-origin:0 0}.cap b{font-weight:bold}</style>
<div class="cap" style="top:508.80px;width:1016.8px;text-align:justify;text-align-last:justify;transform:scaleX(1.046)"><b>Figure</b> 5: <b>Overview of Efficient Planning.</b> It aims to maximize task success while minimizing costs. <b>(a)</b> Single-</div>
<div class="cap" style="top:537.00px;width:983.3px;text-align:justify;text-align-last:justify;transform:scaleX(1.08)">agent methods optimize inference strategies (control, search, decomposition) or evolve via learning (policy,</div>
<div class="cap" style="top:565.60px;width:981.5px;text-align:justify;text-align-last:justify;transform:scaleX(1.08)">memory). <b>(b)</b> Multi-agent methods reduce overhead via topological optimization, context optimization, and</div>
<div class="cap" style="top:594.30px;transform:scaleX(1.1)">coordination distillation.</div>
</body></html>
